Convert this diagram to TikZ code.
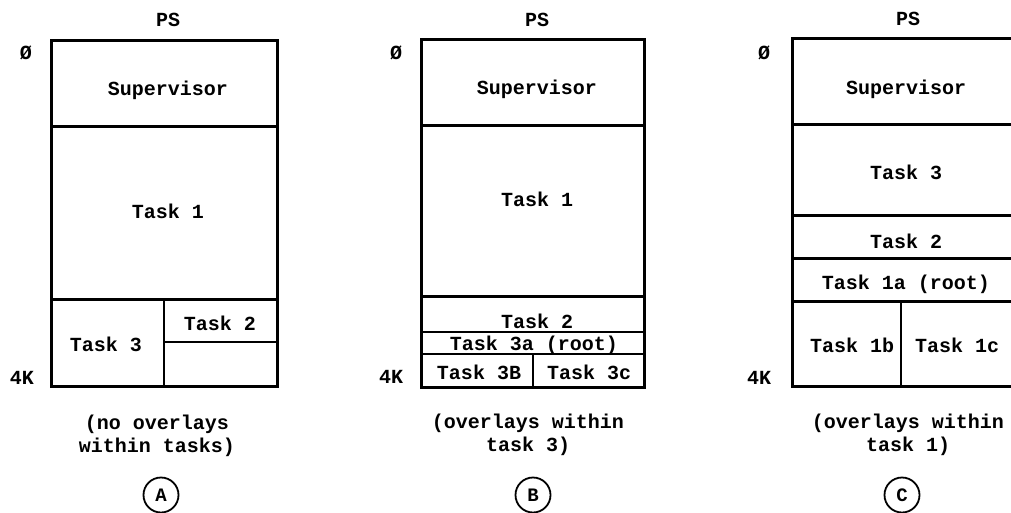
\documentclass[tikz,border=0pt]{standalone}
\usepackage{fontspec}
\setmonofont{Liberation Mono}
\begin{document}
\begin{tikzpicture}[x=1pt,y=-1pt,
  every node/.style={inner sep=0pt, font=\ttfamily\bfseries\fontsize{20}{23}\selectfont},
  frame/.style={line width=3pt, line cap=rect},
  divider/.style={line width=2.6pt},
  caption/.style={align=center},
  tag/.style={circle, draw, line width=1.8pt, minimum size=35pt, font=\ttfamily\bfseries\fontsize{19}{22}\selectfont}]
\useasboundingbox (0,0) rectangle (1011,512);

% ---------- A: no overlays within tasks ----------
\node (psA) at (168,20) {PS};
\node (zA) at (26,53) {Ø};
\node (kA) at (22,378) {4K};
\draw[frame] (51,40) rectangle (277,386);
\draw[frame] (51,126) -- (277,126);
\draw[frame] (51,299) -- (277,299);
\draw[divider] (164,299) -- (164,386);
\draw[divider] (164,342) -- (277,342);
\node (supA) at (168,90) {Supervisor};
\node (t1A) at (168,211) {Task 1};
\node (t3A) at (106,344) {Task 3};
\node (t2A) at (220,323) {Task 2};
\node[caption] (capA) at (157,436) {(no overlays\\within tasks)};
\node[tag] (tagA) at (161,495) {A};

% ---------- B: overlays within task 3 ----------
\node (psB) at (537,20) {PS};
\node (zB) at (396,53) {Ø};
\node (kB) at (391,377) {4K};
\draw[frame] (421,39) rectangle (644,387);
\draw[frame] (421,125) -- (644,125);
\draw[frame] (421,296) -- (644,296);
\draw[divider] (421,332) -- (644,332);
\draw[divider] (421,354) -- (644,354);
\draw[line width=1.6pt] (533,354) -- (533,387);
\node (supB) at (537,89) {Supervisor};
\node (t1B) at (537,199) {Task 1};
\node (t2B) at (537,321) {Task 2};
\node (t3aB) at (534,345) {Task 3a (root)};
\node (t3bB) at (479,372) {Task 3B};
\node (t3cB) at (589,372) {Task 3c};
\node[caption] (capB) at (528,435) {(overlays within\\task 3)};
\node[tag] (tagB) at (533,495) {B};

% ---------- C: overlays within task 1 ----------
\node (psC) at (908,19) {PS};
\node (zC) at (764,53) {Ø};
\node (kC) at (759,378) {4K};
\draw[frame] (1011,38) -- (792,38) -- (792,386) -- (1011,386);
\draw[frame] (792,124) -- (1011,124);
\draw[frame] (792,215) -- (1011,215);
\draw[frame] (792,258) -- (1011,258);
\draw[frame] (792,301) -- (1011,301);
\draw[divider] (901,301) -- (901,386);
\node (supC) at (906,89) {Supervisor};
\node (t3C) at (906,172) {Task 3};
\node (t2C) at (906,241) {Task 2};
\node (t1aC) at (906,284) {Task 1a (root)};
\node (t1bC) at (852,345) {Task 1b};
\node (t1cC) at (957,345) {Task 1c};
\node[caption] (capC) at (908,435) {(overlays within\\task 1)};
\node[tag] (tagC) at (902,495) {C};
\end{tikzpicture}
\end{document}
